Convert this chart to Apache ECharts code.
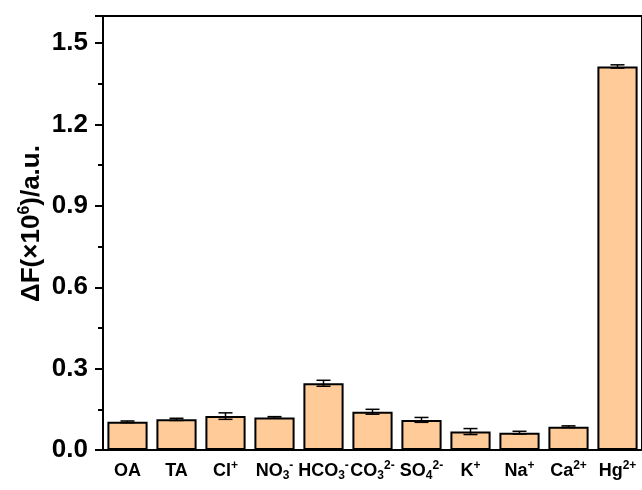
<!DOCTYPE html>
<html>
<head>
<meta charset="utf-8">
<script src="https://cdn.jsdelivr.net/npm/echarts@6/dist/echarts.min.js"></script>
<style>html,body{margin:0;padding:0;background:#fff}#c{width:642px;height:490px}</style>
</head>
<body>
<div id="c"></div>
<script>
var categories = ['OA','TA','Cl+','NO3-','HCO3-','CO32-','SO42-','K+','Na+','Ca2+','Hg2+'];
var labelMarkup = [
  '{b|OA}', '{b|TA}', '{b|Cl}{sup|+}', '{b|NO}{sub|3}{sup|-}', '{b|HCO}{sub|3}{sup|-}',
  '{b|CO}{sub|3}{sup|2-}', '{b|SO}{sub|4}{sup|2-}', '{b|K}{sup|+}', '{b|Na}{sup|+}',
  '{b|Ca}{sup|2+}', '{b|Hg}{sup|2+}'
];
var values = [0.104, 0.113, 0.125, 0.120, 0.246, 0.141, 0.111, 0.068, 0.064, 0.086, 1.414];
var errors = [0.003, 0.004, 0.012, 0.003, 0.011, 0.009, 0.009, 0.011, 0.005, 0.003, 0.006];
var yTicks = [0, 0.3, 0.6, 0.9, 1.2, 1.5];

var FONT = 'Arial, "Liberation Sans", sans-serif';
var chart = echarts.init(document.getElementById('c'));
var rich = {
  b: {fontSize: 18, fontWeight: 'bold', fontFamily: FONT, color: '#000', lineHeight: 22, verticalAlign: 'middle'},
  sup: {fontSize: 12, fontWeight: 'bold', fontFamily: FONT, color: '#000', lineHeight: 18, verticalAlign: 'top'},
  sub: {fontSize: 12, fontWeight: 'bold', fontFamily: FONT, color: '#000', lineHeight: 12, verticalAlign: 'bottom'}
};
var nameRich = {
  b: {fontSize: 26, fontWeight: 'bold', fontFamily: FONT, color: '#000', lineHeight: 30, verticalAlign: 'middle'},
  sup: {fontSize: 16, fontWeight: 'bold', fontFamily: FONT, color: '#000', lineHeight: 20, verticalAlign: 'top'}
};
var errData = values.map(function (v, i) { return [i, v, errors[i]]; });

chart.setOption({
  animation: false,
  grid: {left: 103, top: 16, right: -2, bottom: 40, show: true, borderColor: '#000', borderWidth: 2, backgroundColor: 'transparent'},
  xAxis: [{
    type: 'category', data: categories, position: 'bottom',
    axisLine: {lineStyle: {color: '#000', width: 2}},
    axisTick: {alignWithLabel: true, length: 9, lineStyle: {color: '#000', width: 2}},
    axisLabel: {
      margin: 10, color: '#000', rich: rich, interval: 0,
      formatter: function (val, idx) { return labelMarkup[idx]; }
    }
  }, {
    type: 'category', data: categories, position: 'bottom',
    axisLine: {show: false},
    axisTick: {length: 5, lineStyle: {color: '#000', width: 2}},
    axisLabel: {show: false}
  }],
  yAxis: {
    type: 'value', min: 0, max: 1.6, interval: 0.3,
    name: '{b|ΔF(×10}{sup|6}{b|)/a.u.}', nameLocation: 'middle', nameGap: 56, nameRotate: 90,
    nameMoveOverlap: false,
    nameTextStyle: {rich: nameRich, padding: [0, 0, 0, 19]},
    axisLine: {show: true, lineStyle: {color: '#000', width: 2}},
    axisTick: {show: true, length: 8, lineStyle: {color: '#000', width: 2}},
    minorTick: {show: true, splitNumber: 2, length: 5, lineStyle: {color: '#000', width: 2}},
    splitLine: {show: false},
    axisLabel: {
      margin: 15, color: '#000', fontSize: 26, fontWeight: 'bold', fontFamily: FONT,
      showMaxLabel: false,
      formatter: function (v) { return yTicks.indexOf(Math.round(v * 10) / 10) >= 0 ? v.toFixed(1) : ''; }
    }
  },
  series: [{
    type: 'bar', data: values, barWidth: '82%', xAxisIndex: 0,
    itemStyle: {color: '#FFCC99', borderColor: '#000', borderWidth: 2}
  }, {
    type: 'custom', data: errData, xAxisIndex: 0, z: 5,
    renderItem: function (params, api) {
      var i = api.value(0), v = api.value(1), e = api.value(2);
      var top = api.coord([i, v + e]);
      var bot = api.coord([i, v - e]);
      var hw = 7;
      var st = {stroke: '#000', lineWidth: 1.5};
      return {type: 'group', children: [
        {type: 'line', shape: {x1: top[0], y1: top[1], x2: bot[0], y2: bot[1]}, style: st},
        {type: 'line', shape: {x1: top[0] - hw, y1: top[1], x2: top[0] + hw, y2: top[1]}, style: st},
        {type: 'line', shape: {x1: bot[0] - hw, y1: bot[1], x2: bot[0] + hw, y2: bot[1]}, style: st}
      ]};
    }
  }]
});
</script>
</body>
</html>
